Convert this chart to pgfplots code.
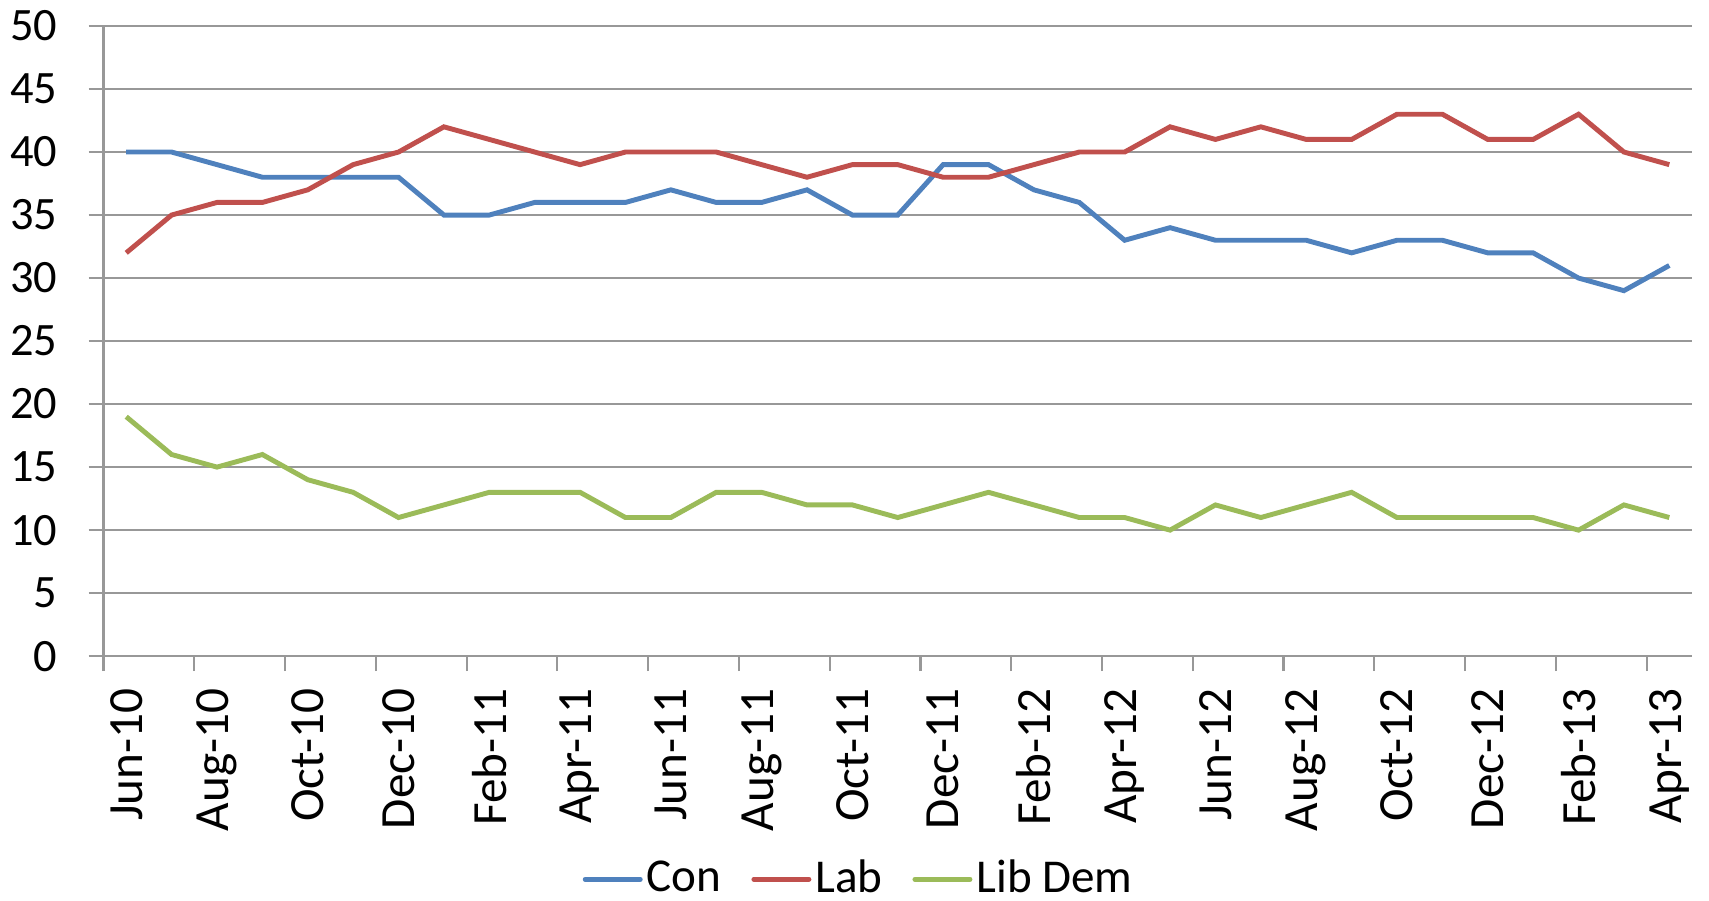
\documentclass[border=0pt]{standalone}
\usepackage{pgfplots}
\pgfplotsset{compat=1.18}
\usepackage{fontspec}
\setmainfont{Carlito}

\definecolor{conblue}{HTML}{4F81BD}
\definecolor{labred}{HTML}{C0504D}
\definecolor{ldgreen}{HTML}{9BBB59}
\definecolor{axgray}{HTML}{989898}

% monthly poll shares, Jun-10 .. Apr-13 (35 months, x = 0..34)
\pgfplotstableread{
x con lab ld
0 40 32 19
1 40 35 16
2 39 36 15
3 38 36 16
4 38 37 14
5 38 39 13
6 38 40 11
7 35 42 12
8 35 41 13
9 36 40 13
10 36 39 13
11 36 40 11
12 37 40 11
13 36 40 13
14 36 39 13
15 37 38 12
16 35 39 12
17 35 39 11
18 39 38 12
19 39 38 13
20 37 39 12
21 36 40 11
22 33 40 11
23 34 42 10
24 33 41 12
25 33 42 11
26 33 41 12
27 32 41 13
28 33 43 11
29 33 43 11
30 32 41 11
31 32 41 11
32 30 43 10
33 29 40 12
34 31 39 11
}\polls

\begin{document}
\begin{tikzpicture}
\begin{axis}[
  name=ax,
  scale only axis,
  width=15.88cm, height=6.30cm,
  xmin=-0.5, xmax=34.5, ymin=0, ymax=50,
  ytick={0,5,...,50},
  xtick={-0.5,1.5,...,33.5}, xticklabels={},
  extra x ticks={0,2,...,34},
  extra x tick labels={Jun-10,Aug-10,Oct-10,Dec-10,Feb-11,Apr-11,Jun-11,Aug-11,Oct-11,Dec-11,Feb-12,Apr-12,Jun-12,Aug-12,Oct-12,Dec-12,Feb-13,Apr-13},
  extra x tick style={major tick length=0pt},
  tick label style={font=\fontsize{13.2}{15}\selectfont},
  xticklabel style={rotate=90, anchor=east, xshift=-2mm, font=\fontsize{14}{16}\selectfont},
  yticklabel style={xshift=-1.9mm},
  axis x line*=bottom, axis y line*=left,
  axis line style={axgray, line width=0.6pt, -},
  tick style={axgray, line width=0.6pt},
  tick align=outside, major tick length=1.5mm,
  ymajorgrids, grid style={axgray, line width=0.6pt},
  /pgf/number format/assume math mode=true,
  legend style={at={(0.476,-0.354)}, anchor=center, draw=none,
    font=\fontsize{13.4}{15}\selectfont, inner sep=0pt,
    nodes={inner sep=0.4mm},
    /tikz/every even column/.append style={column sep=2.6mm}},
  legend columns=3,
  legend image code/.code={\draw[#1, line width=1.4pt, line cap=round] (0,0) -- (0.55cm,0);},
  every axis plot/.append style={line width=1.4pt, no markers},
]
\addplot[conblue] table[x=x, y=con] {\polls};
\addplot[labred] table[x=x, y=lab] {\polls};
\addplot[ldgreen] table[x=x, y=ld] {\polls};
\legend{Con, Lab, Lib Dem}
\end{axis}
\pgfresetboundingbox
\path ([shift={(-10.35mm,-24.4mm)}]ax.south west) rectangle ([shift={(1.7mm,2.6mm)}]ax.north east);
\end{tikzpicture}
\end{document}
